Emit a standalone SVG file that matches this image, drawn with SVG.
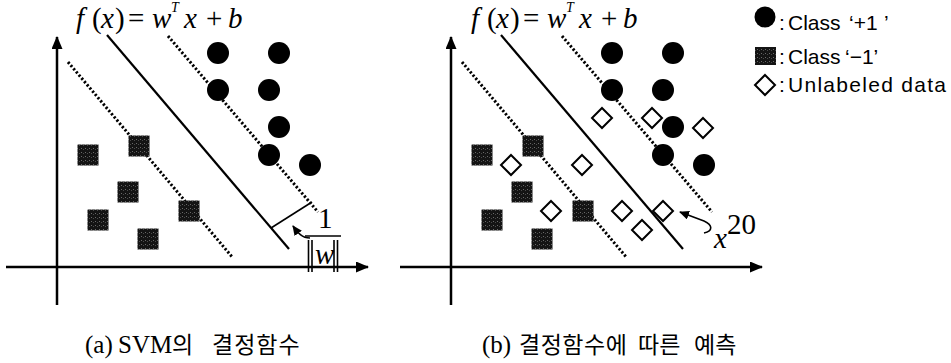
<svg xmlns="http://www.w3.org/2000/svg" width="951" height="363" viewBox="0 0 951 363">
<style>
.axis{stroke:#000;stroke-width:2.5;fill:none}
.sep{stroke:#000;stroke-width:2.2;fill:none}
.margin{stroke:#000;stroke-width:3;stroke-dasharray:2.2 2;fill:none}
.thin{stroke:#000;stroke-width:1.6;fill:none}
.eq{font-family:"Liberation Serif","Times New Roman",serif;font-size:29px;fill:#000}
.it{font-style:italic}
.leg{font-family:"Liberation Sans",Arial,sans-serif;font-size:21px;fill:#000}
.cap{font-family:"Liberation Serif","Noto Sans CJK KR",serif;font-size:25px;fill:#000}
.ko{font-family:"Noto Sans CJK KR","Liberation Serif",sans-serif;font-size:23px}
.pos{fill:#000}
.neg{fill:url(#tex)}
.unl{fill:#fff;stroke:#000;stroke-width:2}
</style>
<defs>
<pattern id="tex" width="4" height="4" patternUnits="userSpaceOnUse"><rect width="4" height="4" fill="#141414"/><rect x="1" y="1" width="1" height="1" fill="#6a6a6a"/><rect x="3" y="2" width="1" height="1" fill="#4a4a4a"/></pattern>
<marker id="axh" markerUnits="userSpaceOnUse" markerWidth="13" markerHeight="11" refX="12" refY="5.5" orient="auto"><path d="M0,0 L13,5.5 L0,11 z" fill="#000"/></marker>
<marker id="sah" markerUnits="userSpaceOnUse" markerWidth="10" markerHeight="9" refX="9" refY="4.5" orient="auto"><path d="M0,0 L10,4.5 L0,9 z" fill="#000"/></marker>
<circle id="dot" r="11"/>
<rect id="sq" x="-10.5" y="-10.5" width="21" height="21"/>
<path id="dia" d="M0,-10 L10,0 L0,10 L-10,0 z"/>
</defs>

<!-- Panel (a) -->
<g id="axes-a">
<line class="axis" x1="57" y1="305" x2="57" y2="37" marker-end="url(#axh)"/>
<line class="axis" x1="6" y1="267" x2="368" y2="267" marker-end="url(#axh)"/>
</g>
<g id="equation-a">
<text class="eq" y="28"><tspan class="it" x="76">f</tspan><tspan x="92">(</tspan><tspan class="it" x="101">x</tspan><tspan x="115">)</tspan><tspan x="128">=</tspan><tspan class="it" x="152">w</tspan><tspan class="it" x="171" y="12" font-size="14">T</tspan><tspan class="it" x="184" y="28">x</tspan><tspan x="206">+</tspan><tspan class="it" x="228">b</tspan></text>
</g>
<g id="connectors-a">
<line id="hyperplane-a" class="sep" x1="107" y1="35" x2="289" y2="249"/>
<line id="margin-upper-a" class="margin" x1="168" y1="36" x2="318" y2="212"/>
<line id="margin-lower-a" class="margin" x1="68" y1="62" x2="233" y2="258"/>
<line id="margin-width" class="thin" x1="271" y1="228" x2="312" y2="202"/>
<path id="margin-pointer" class="thin" d="M310,238 C302,238 298,233 293,226" marker-end="url(#sah)"/>
</g>
<g id="fraction-a">
<text class="eq" x="318" y="228" font-size="22">1</text>
<line class="thin" x1="305" y1="236" x2="341" y2="236"/>
<line class="thin" x1="308.5" y1="240" x2="308.5" y2="272" stroke-width="1.2"/>
<line class="thin" x1="312" y1="240" x2="312" y2="272" stroke-width="1.2"/>
<text class="eq it" x="315" y="264" font-size="22">w</text>
<line class="thin" x1="334" y1="240" x2="334" y2="272" stroke-width="1.2"/>
<line class="thin" x1="337.5" y1="240" x2="337.5" y2="272" stroke-width="1.2"/>
</g>
<g id="points-a">
<use id="a-p1" href="#dot" class="pos" x="218" y="53"/>
<use id="a-p2" href="#dot" class="pos" x="279" y="53"/>
<use id="a-p3" href="#dot" class="pos" x="218" y="90"/>
<use id="a-p4" href="#dot" class="pos" x="269" y="90"/>
<use id="a-p5" href="#dot" class="pos" x="279" y="127"/>
<use id="a-p6" href="#dot" class="pos" x="269" y="155"/>
<use id="a-p7" href="#dot" class="pos" x="310" y="165"/>
<use id="a-n1" href="#sq" class="neg" x="88" y="155"/>
<use id="a-n2" href="#sq" class="neg" x="139" y="146"/>
<use id="a-n3" href="#sq" class="neg" x="128" y="192"/>
<use id="a-n4" href="#sq" class="neg" x="98" y="220"/>
<use id="a-n5" href="#sq" class="neg" x="189" y="211"/>
<use id="a-n6" href="#sq" class="neg" x="148" y="239"/>
</g>
<g id="caption-a">
<text class="cap" y="353"><tspan x="85">(a)</tspan><tspan x="118">SVM</tspan><tspan class="ko" x="172">의</tspan><tspan class="ko" x="212" letter-spacing="1">결정함수</tspan></text>
</g>

<!-- Panel (b) -->
<g id="axes-b">
<line class="axis" x1="451" y1="305" x2="451" y2="37" marker-end="url(#axh)"/>
<line class="axis" x1="400" y1="267" x2="762" y2="267" marker-end="url(#axh)"/>
</g>
<g id="equation-b">
<text class="eq" y="28"><tspan class="it" x="471">f</tspan><tspan x="487">(</tspan><tspan class="it" x="496">x</tspan><tspan x="510">)</tspan><tspan x="523">=</tspan><tspan class="it" x="547">w</tspan><tspan class="it" x="566" y="12" font-size="14">T</tspan><tspan class="it" x="579" y="28">x</tspan><tspan x="601">+</tspan><tspan class="it" x="623">b</tspan></text>
</g>
<g id="connectors-b">
<line id="hyperplane-b" class="sep" x1="501" y1="35" x2="683" y2="249"/>
<line id="margin-upper-b" class="margin" x1="562" y1="36" x2="712" y2="212"/>
<line id="margin-lower-b" class="margin" x1="462" y1="62" x2="627" y2="258"/>
<path id="x20-pointer" class="thin" d="M704,233 C713,231 713,225 704,221 L680,212" marker-end="url(#sah)"/>
</g>
<g id="label-x20">
<text class="eq it" x="714" y="248" font-size="22">x</text>
<text class="eq" x="727" y="234" font-size="17">20</text>
</g>
<g id="points-b">
<use id="b-p1" href="#dot" class="pos" x="612" y="53"/>
<use id="b-p2" href="#dot" class="pos" x="673" y="53"/>
<use id="b-p3" href="#dot" class="pos" x="612" y="90"/>
<use id="b-p4" href="#dot" class="pos" x="663" y="90"/>
<use id="b-p5" href="#dot" class="pos" x="673" y="127"/>
<use id="b-p6" href="#dot" class="pos" x="663" y="155"/>
<use id="b-p7" href="#dot" class="pos" x="704" y="165"/>
<use id="b-n1" href="#sq" class="neg" x="482" y="155"/>
<use id="b-n2" href="#sq" class="neg" x="533" y="146"/>
<use id="b-n3" href="#sq" class="neg" x="522" y="192"/>
<use id="b-n4" href="#sq" class="neg" x="492" y="220"/>
<use id="b-n5" href="#sq" class="neg" x="583" y="211"/>
<use id="b-n6" href="#sq" class="neg" x="542" y="239"/>
<use id="b-u1" href="#dia" class="unl" x="602" y="118"/>
<use id="b-u2" href="#dia" class="unl" x="652" y="118"/>
<use id="b-u3" href="#dia" class="unl" x="703" y="128"/>
<use id="b-u4" href="#dia" class="unl" x="511" y="165"/>
<use id="b-u5" href="#dia" class="unl" x="582" y="165"/>
<use id="b-u6" href="#dia" class="unl" x="551" y="211"/>
<use id="b-u7" href="#dia" class="unl" x="622" y="211"/>
<use id="b-u8" href="#dia" class="unl" x="642" y="230"/>
<use id="b-u9" href="#dia" class="unl" x="663" y="211"/>
</g>
<g id="caption-b">
<text class="cap" y="353"><tspan x="482">(b)</tspan><tspan class="ko" x="519" letter-spacing="0.5">결정함수에</tspan><tspan class="ko" x="638">따른</tspan><tspan class="ko" x="694">예측</tspan></text>
</g>

<!-- Legend -->
<g id="legend-pos">
<circle cx="765" cy="17" r="10.5" class="pos"/>
<text class="leg" y="30"><tspan x="779">:</tspan><tspan x="788">Class</tspan><tspan x="849">‘+1</tspan><tspan x="884">’</tspan></text>
</g>
<g id="legend-neg">
<rect x="755" y="47" width="21" height="18" class="neg"/>
<text class="leg" y="64"><tspan x="779">:</tspan><tspan x="788">Class</tspan><tspan x="845">‘−1’</tspan></text>
</g>
<g id="legend-unl">
<path d="M765,75 L775,85 L765,95 L755,85 z" class="unl"/>
<text class="leg" y="92"><tspan x="779">:</tspan><tspan x="788" textLength="158" lengthAdjust="spacing">Unlabeled data</tspan></text>
</g>
</svg>
